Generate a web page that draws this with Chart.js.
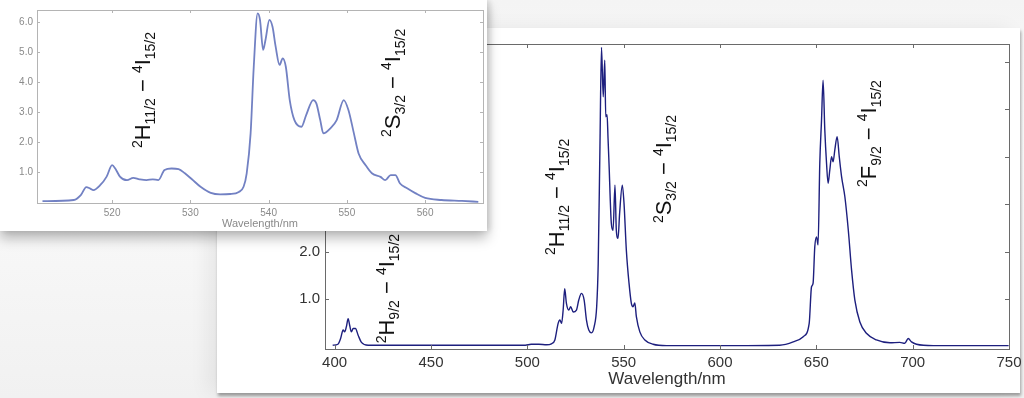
<!DOCTYPE html>
<html>
<head>
<meta charset="utf-8">
<script src="https://cdn.jsdelivr.net/npm/chart.js@4.4.1/dist/chart.umd.min.js"></script>
<style>
  html, body { margin: 0; padding: 0; }
  body {
    width: 1024px; height: 398px; overflow: hidden; position: relative;
    background: linear-gradient(#f4f4f4, #fafafa 40%, #f1f1f1);
  }
  #mainCard {
    position: absolute; left: 217px; top: 28px; width: 803px; height: 365px;
    background: #fff;
    box-shadow: 1px 3px 3px rgba(0,0,0,0.35), -10px 0 18px rgba(0,0,0,0.06);
  }
  #insetCard {
    position: absolute; left: 0; top: 0; width: 487px; height: 231px;
    background: #fff; z-index: 2;
    box-shadow: 0 7px 12px rgba(0,0,0,0.28), 3px 0 6px rgba(0,0,0,0.12);
  }
  canvas { display: block; }
</style>
</head>
<body>
<div id="mainCard"><canvas id="mainChart" width="806" height="365"></canvas></div>
<div id="insetCard"><canvas id="insetChart" width="487" height="231"></canvas></div>
<script>
// full spectrum (nm / intensity)
const waveMain = [399, 401.7, 403.1, 404.4, 405.2, 406.1, 407, 407.8, 408.7, 409.6, 410.8, 412.2, 413.9, 417.4, 430, 460, 490, 499, 502, 506, 510, 512.5,
  514.3, 516.0, 516.9, 517.8, 518.6, 519.4, 520.3, 521.5, 522.5, 523.8, 525.5, 526.7, 528.1, 529.5, 530.7, 531.9, 533.3, 534.7, 536.0, 536.8, 537.7,
  538.5, 539.4, 540.2, 540.7, 541.4, 541.9, 542.4, 543.6, 544.5, 545.5, 546.2, 547.1, 547.9, 549.3, 550.2, 551.4, 552.8, 554.0, 554.9, 555.8, 556.6,
  558.4, 561.0, 565.3, 572.2, 600, 631.0, 638.0, 643.2, 646.3, 647.5, 648.3, 649.2, 650.1, 650.9, 651.8, 652.7, 653.5, 654.4, 655.3, 656.1, 657.0,
  657.9, 658.7, 659.6, 660.8, 661.9, 663.1, 664.8, 666.6, 668.3, 670.0, 672.6, 676.0, 681.2, 688.2, 693.3, 695.9, 697.7, 699.4, 702.0, 710.7, 749.8];
const intMain = [0.03, 0.05, 0.17, 0.35, 0.31, 0.42, 0.59, 0.45, 0.31, 0.38, 0.38, 0.24, 0.09, 0.03, 0.03, 0.03, 0.03, 0.03, 0.05, 0.05, 0.04, 0.06,
  0.14, 0.49, 0.56, 0.49, 0.77, 1.22, 0.91, 0.77, 0.84, 0.73, 0.77, 0.98, 1.12, 0.98, 0.56, 0.35, 0.29, 0.42, 0.84, 1.75, 4.21,
  6.3, 5.26, 6.03, 4.84, 4.88, 4.38, 3.86, 2.6, 2.45, 3.4, 2.45, 2.28, 2.8, 3.4, 3.01, 2.03, 1.33, 0.91, 0.84, 0.92, 0.63,
  0.31, 0.14, 0.05, 0.02, 0.02, 0.03, 0.1, 0.21, 0.49, 1.26, 1.33, 2.1, 2.31, 2.14, 3.86, 4.77, 5.61, 4.56, 3.86, 3.44, 3.72,
  4.0, 3.89, 4.14, 4.42, 4.0, 3.58, 3.16, 2.45, 1.61, 0.98, 0.52, 0.28, 0.14, 0.08, 0.09, 0.07, 0.17, 0.1, 0.05, 0.02, 0.02];

// zoomed green band (inset)
const waveInset = [511.1, 515.1, 516, 516.7, 517.2, 517.6, 518.5, 519.3, 520, 520.4, 521, 521.9, 522.7, 523.5, 524.4, 525.2, 525.9, 526.7, 527.6,
  528.5, 529.3, 530.2, 531.3, 532.6, 533.8, 535.1, 536.2, 536.8, 537.2, 537.7, 538.1, 538.6, 538.9, 539.3, 539.6, 540.1, 540.5, 540.9, 541.4,
  541.8, 542.2, 542.7, 543.3, 544.2, 544.8, 545.7, 546.1, 546.6, 547.0, 547.9, 548.7, 549.6, 550.2, 550.9, 551.5, 552.4, 553.2, 554.3, 554.9,
  555.6, 556.2, 556.8, 557.7, 558.8, 560, 562.1, 564.7, 566.8];
const intInset = [0.03, 0.07, 0.23, 0.5, 0.45, 0.4, 0.57, 0.85, 1.23, 1.12, 0.85, 0.73, 0.81, 0.76, 0.73, 0.76, 0.73, 1.07, 1.12,
  1.1, 0.96, 0.76, 0.51, 0.31, 0.26, 0.27, 0.34, 0.51, 0.96, 2.29, 4.5, 6.29, 6.07, 5.07, 5.4, 6.07, 5.84, 5.18, 4.57,
  4.79, 4.51, 3.4, 2.73, 2.51, 2.9, 3.4, 3.29, 2.73, 2.29, 2.46, 2.73, 3.4, 3.07, 2.29, 1.62, 1.23, 0.96, 0.84, 0.73,
  0.9, 0.9, 0.62, 0.46, 0.29, 0.14, 0.07, 0.04, 0.01];

const ticksMainX = [400, 450, 500, 550, 600, 650, 700, 750];
const ticksInsetX = [520, 530, 540, 550, 560];
const ticksY = [1, 2, 3, 4, 5, 6];

// transition labels: [text, kind] pieces, kind n / sup / sub
const lblH92 = [['2', 'sup'], ['H', 'n'], ['9/2', 'sub'], [' \u2212 ', 'n'], ['4', 'sup'], ['I', 'n'], ['15/2', 'sub']];
const lblH112 = [['2', 'sup'], ['H', 'n'], ['11/2', 'sub'], [' \u2212 ', 'n'], ['4', 'sup'], ['I', 'n'], ['15/2', 'sub']];
const lblS32 = [['2', 'sup'], ['S', 'n'], ['3/2', 'sub'], [' \u2212 ', 'n'], ['4', 'sup'], ['I', 'n'], ['15/2', 'sub']];
const lblF92 = [['2', 'sup'], ['F', 'n'], ['9/2', 'sub'], [' \u2212 ', 'n'], ['4', 'sup'], ['I', 'n'], ['15/2', 'sub']];

// box + inward ticks
const framePlugin = {
  id: 'frame',
  afterDatasetsDraw(chart, args, opts) {
    const {ctx, chartArea: a, scales} = chart;
    ctx.save();
    ctx.strokeStyle = opts.color;
    ctx.lineWidth = 1;
    ctx.strokeRect(Math.round(a.left) + 0.5, Math.round(a.top) + 0.5, Math.round(a.right - a.left), Math.round(a.bottom - a.top));
    const len = opts.len;
    ctx.beginPath();
    scales.x.ticks.forEach(t => {
      const x = Math.round(scales.x.getPixelForValue(t.value)) + 0.5;
      ctx.moveTo(x, a.bottom); ctx.lineTo(x, a.bottom - len);
      ctx.moveTo(x, a.top); ctx.lineTo(x, a.top + len);
    });
    scales.y.ticks.forEach(t => {
      const y = Math.round(scales.y.getPixelForValue(t.value)) + 0.5;
      ctx.moveTo(a.left, y); ctx.lineTo(a.left + len, y);
      ctx.moveTo(a.right, y); ctx.lineTo(a.right - len, y);
    });
    ctx.stroke();
    ctx.restore();
  }
};

// rotated rich-text labels (super/subscripts)
const richPlugin = {
  id: 'rich',
  afterDatasetsDraw(chart, args, opts) {
    const {ctx, scales} = chart;
    const fs = opts.size;
    ctx.save();
    ctx.fillStyle = opts.color;
    ctx.textBaseline = 'alphabetic';
    ctx.textAlign = 'left';
    opts.labels.forEach(l => {
      const px = scales.x.getPixelForValue(l.x);
      const py = scales.y.getPixelForValue(l.y);
      ctx.save();
      ctx.translate(px, py);
      ctx.rotate(-Math.PI / 2);
      let pos = 0;
      l.parts.forEach(([t, k]) => {
        const size = k === 'n' ? fs : Math.round(fs * 0.64);
        ctx.font = size + 'px ' + opts.family;
        const dy = k === 'sup' ? -fs * 0.4 : (k === 'sub' ? fs * 0.22 : 0);
        ctx.fillText(t, pos, dy);
        pos += ctx.measureText(t).width;
      });
      ctx.restore();
    });
    ctx.restore();
  }
};

function makeScales(cfg) {
  return {
    x: {
      type: 'linear', min: cfg.xmin, max: cfg.xmax,
      grid: { display: false, drawTicks: false },
      border: { display: false },
      afterBuildTicks: s => { s.ticks = cfg.xticks.map(v => ({ value: v })); },
      afterFit: s => { s.height = cfg.xh; s.paddingLeft = 0; s.paddingRight = 0; },
      ticks: { color: cfg.tickColor, font: { family: 'Liberation Sans, Arial', size: cfg.fs }, padding: cfg.pad, maxRotation: 0,
        callback: v => String(v) },
      title: { display: true, text: 'Wavelength/nm', color: cfg.tickColor,
        font: { family: 'Liberation Sans, Arial', size: cfg.fs + cfg.titleUp }, padding: { top: 0, bottom: cfg.titlePad } }
    },
    y: {
      type: 'linear', min: cfg.ymin, max: cfg.ymax,
      grid: { display: false, drawTicks: false },
      border: { display: false },
      afterBuildTicks: s => { s.ticks = ticksY.map(v => ({ value: v })); },
      afterFit: s => { s.width = cfg.yw; s.paddingTop = 0; s.paddingBottom = 0; },
      ticks: { color: cfg.tickColor, font: { family: 'Liberation Sans, Arial', size: cfg.fs }, padding: cfg.pad,
        callback: v => v.toFixed(1) }
    }
  };
}

new Chart(document.getElementById('mainChart'), {
  type: 'line',
  data: {
    datasets: [{
      data: waveMain.map((x, i) => ({ x: x, y: intMain[i] })),
      borderColor: '#1d1f7e', borderWidth: 1.4, pointRadius: 0,
      cubicInterpolationMode: 'monotone', fill: false
    }]
  },
  options: {
    responsive: false, animation: false, devicePixelRatio: 1,
    layout: { padding: { left: 0, top: 16, right: 14, bottom: 0 } },
    scales: makeScales({ xmin: 395, xmax: 750, xticks: ticksMainX, ymin: -0.05, ymax: 6.37,
      xh: 44, yw: 108, fs: 15, pad: 5, titlePad: 3, titleUp: 2, tickColor: '#333' }),
    plugins: {
      legend: { display: false }, tooltip: { enabled: false },
      frame: { color: '#6a6a6a', len: 4 },
      rich: {
        size: 22, color: '#111', family: 'Liberation Sans, Arial',
        labels: [
          { x: 431, y: 0.07, parts: lblH92 },
          { x: 518.9, y: 1.93, parts: lblH112 },
          { x: 574.8, y: 2.6, parts: lblS32 },
          { x: 680.8, y: 3.36, parts: lblF92 }
        ]
      }
    }
  },
  plugins: [framePlugin, richPlugin]
});

new Chart(document.getElementById('insetChart'), {
  type: 'line',
  data: {
    datasets: [{
      data: waveInset.map((x, i) => ({ x: x, y: intInset[i] })),
      borderColor: '#7281c3', borderWidth: 1.8, pointRadius: 0,
      cubicInterpolationMode: 'monotone', fill: false
    }]
  },
  options: {
    responsive: false, animation: false, devicePixelRatio: 1,
    layout: { padding: { left: 0, top: 10, right: 4, bottom: 0 } },
    scales: makeScales({ xmin: 510.4, xmax: 567.4, xticks: ticksInsetX, ymin: -0.03, ymax: 6.4,
      xh: 28, yw: 37, fs: 10, pad: 4, titlePad: 0, titleUp: 1, tickColor: '#8a8a8a' }),
    plugins: {
      legend: { display: false }, tooltip: { enabled: false },
      frame: { color: '#b4b4b4', len: 3 },
      rich: {
        size: 22, color: '#111', family: 'Liberation Sans, Arial',
        labels: [
          { x: 524.9, y: 1.8, parts: lblH112 },
          { x: 556.8, y: 2.17, parts: lblS32 }
        ]
      }
    }
  },
  plugins: [framePlugin, richPlugin]
});
</script>
</body>
</html>
